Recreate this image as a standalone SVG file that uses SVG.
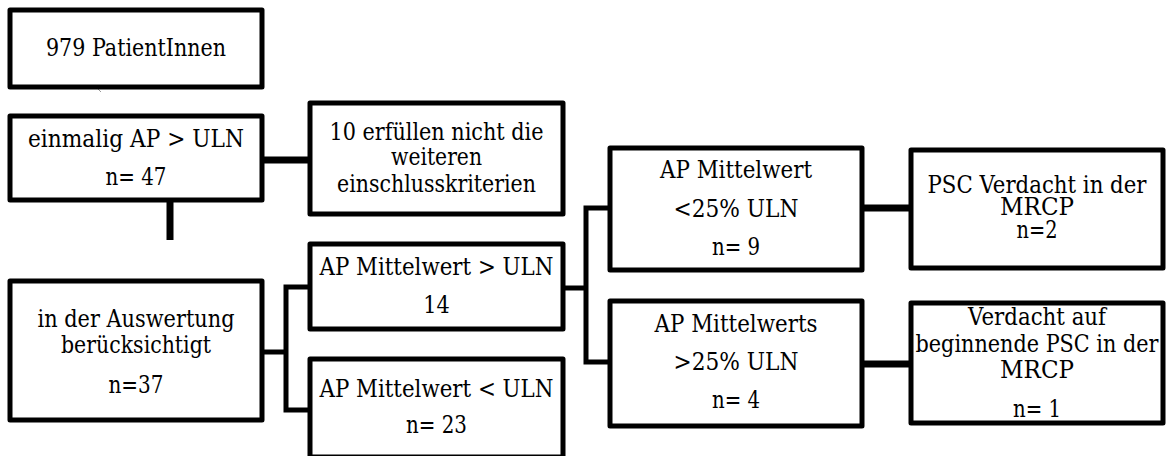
<svg xmlns="http://www.w3.org/2000/svg" width="1167" height="456" viewBox="0 0 1167 456">
<style>
.box{fill:#fff;stroke:#000;stroke-width:5;stroke-linejoin:round}
.t{font-family:"DejaVu Serif","Liberation Serif",serif;font-size:23.5px;fill:#000;text-anchor:middle}
.c{fill:none;stroke:#000;stroke-linejoin:miter;stroke-linecap:butt}
.thick{stroke-width:7}
.thin{stroke-width:5}
</style>
<rect width="1167" height="456" fill="#fff"/>
<g id="connectors">
<line class="c thick" x1="262" y1="160" x2="311" y2="160"/>
<line class="c thick" x1="170" y1="200" x2="170" y2="240"/>
<polyline class="c thin" points="262,352 286,352"/>
<polyline class="c thin" points="310,287 286,287 286,410 310,410"/>
<polyline class="c thin" points="563,288 586,288"/>
<polyline class="c thin" points="610,208 586,208 586,362 610,362"/>
<line class="c thick" x1="862" y1="208" x2="911" y2="208"/>
<line class="c thick" x1="862" y1="364" x2="911" y2="364"/>
<line x1="97" y1="88" x2="101" y2="92" stroke="#999" stroke-width="1"/>
</g>
<g id="n_start">
<rect class="box" x="10" y="10" width="252" height="77"/>
<text class="t" x="136" y="56" textLength="180" lengthAdjust="spacingAndGlyphs">979 PatientInnen</text>
</g>
<g id="n_einmalig">
<rect class="box" x="10" y="116" width="252" height="84"/>
<text class="t" x="136" y="147" textLength="216" lengthAdjust="spacingAndGlyphs">einmalig AP &gt; ULN</text>
<text class="t" x="136" y="185" textLength="61" lengthAdjust="spacingAndGlyphs">n= 47</text>
</g>
<g id="n_excluded">
<rect class="box" x="310" y="103" width="253" height="111"/>
<text class="t" x="436.5" y="140" textLength="214" lengthAdjust="spacingAndGlyphs">10 erfüllen nicht die</text>
<text class="t" x="436.5" y="165" textLength="91" lengthAdjust="spacingAndGlyphs">weiteren</text>
<text class="t" x="436.5" y="192" textLength="199" lengthAdjust="spacingAndGlyphs">einschlusskriterien</text>
</g>
<g id="n_auswertung">
<rect class="box" x="10" y="281" width="252" height="139"/>
<text class="t" x="136" y="327" textLength="197" lengthAdjust="spacingAndGlyphs">in der Auswertung</text>
<text class="t" x="136" y="353" textLength="150" lengthAdjust="spacingAndGlyphs">berücksichtigt</text>
<text class="t" x="136" y="393" textLength="55" lengthAdjust="spacingAndGlyphs">n=37</text>
</g>
<g id="n_gt_uln">
<rect class="box" x="310" y="244" width="253" height="85"/>
<text class="t" x="436.5" y="275" textLength="234" lengthAdjust="spacingAndGlyphs">AP Mittelwert &gt; ULN</text>
<text class="t" x="436.5" y="313" textLength="26.5" lengthAdjust="spacingAndGlyphs">14</text>
</g>
<g id="n_lt_uln">
<rect class="box" x="310" y="359" width="253" height="98"/>
<text class="t" x="436.5" y="397" textLength="234" lengthAdjust="spacingAndGlyphs">AP Mittelwert &lt; ULN</text>
<text class="t" x="436.5" y="433" textLength="61" lengthAdjust="spacingAndGlyphs">n= 23</text>
</g>
<g id="n_lt25">
<rect class="box" x="610" y="148" width="252" height="122"/>
<text class="t" x="736" y="178" textLength="152" lengthAdjust="spacingAndGlyphs">AP Mittelwert</text>
<text class="t" x="736" y="217" textLength="125" lengthAdjust="spacingAndGlyphs">&lt;25% ULN</text>
<text class="t" x="736" y="255" textLength="48" lengthAdjust="spacingAndGlyphs">n= 9</text>
</g>
<g id="n_gt25">
<rect class="box" x="610" y="301" width="252" height="125"/>
<text class="t" x="736" y="332" textLength="163" lengthAdjust="spacingAndGlyphs">AP Mittelwerts</text>
<text class="t" x="736" y="370" textLength="125" lengthAdjust="spacingAndGlyphs">&gt;25% ULN</text>
<text class="t" x="736" y="408" textLength="48" lengthAdjust="spacingAndGlyphs">n= 4</text>
</g>
<g id="n_psc">
<rect class="box" x="911" y="150" width="252" height="118"/>
<text class="t" x="1037" y="193" textLength="219" lengthAdjust="spacingAndGlyphs">PSC Verdacht in der</text>
<text class="t" x="1037" y="215" textLength="74" lengthAdjust="spacingAndGlyphs">MRCP</text>
<text class="t" x="1037" y="238" textLength="41" lengthAdjust="spacingAndGlyphs">n=2</text>
</g>
<g id="n_beginnend">
<rect class="box" x="911" y="303" width="252" height="120"/>
<text class="t" x="1037" y="325" textLength="138" lengthAdjust="spacingAndGlyphs">Verdacht auf</text>
<text class="t" x="1037" y="352" textLength="243" lengthAdjust="spacingAndGlyphs">beginnende PSC in der</text>
<text class="t" x="1037" y="378" textLength="74" lengthAdjust="spacingAndGlyphs">MRCP</text>
<text class="t" x="1037" y="417" textLength="48" lengthAdjust="spacingAndGlyphs">n= 1</text>
</g>
</svg>
